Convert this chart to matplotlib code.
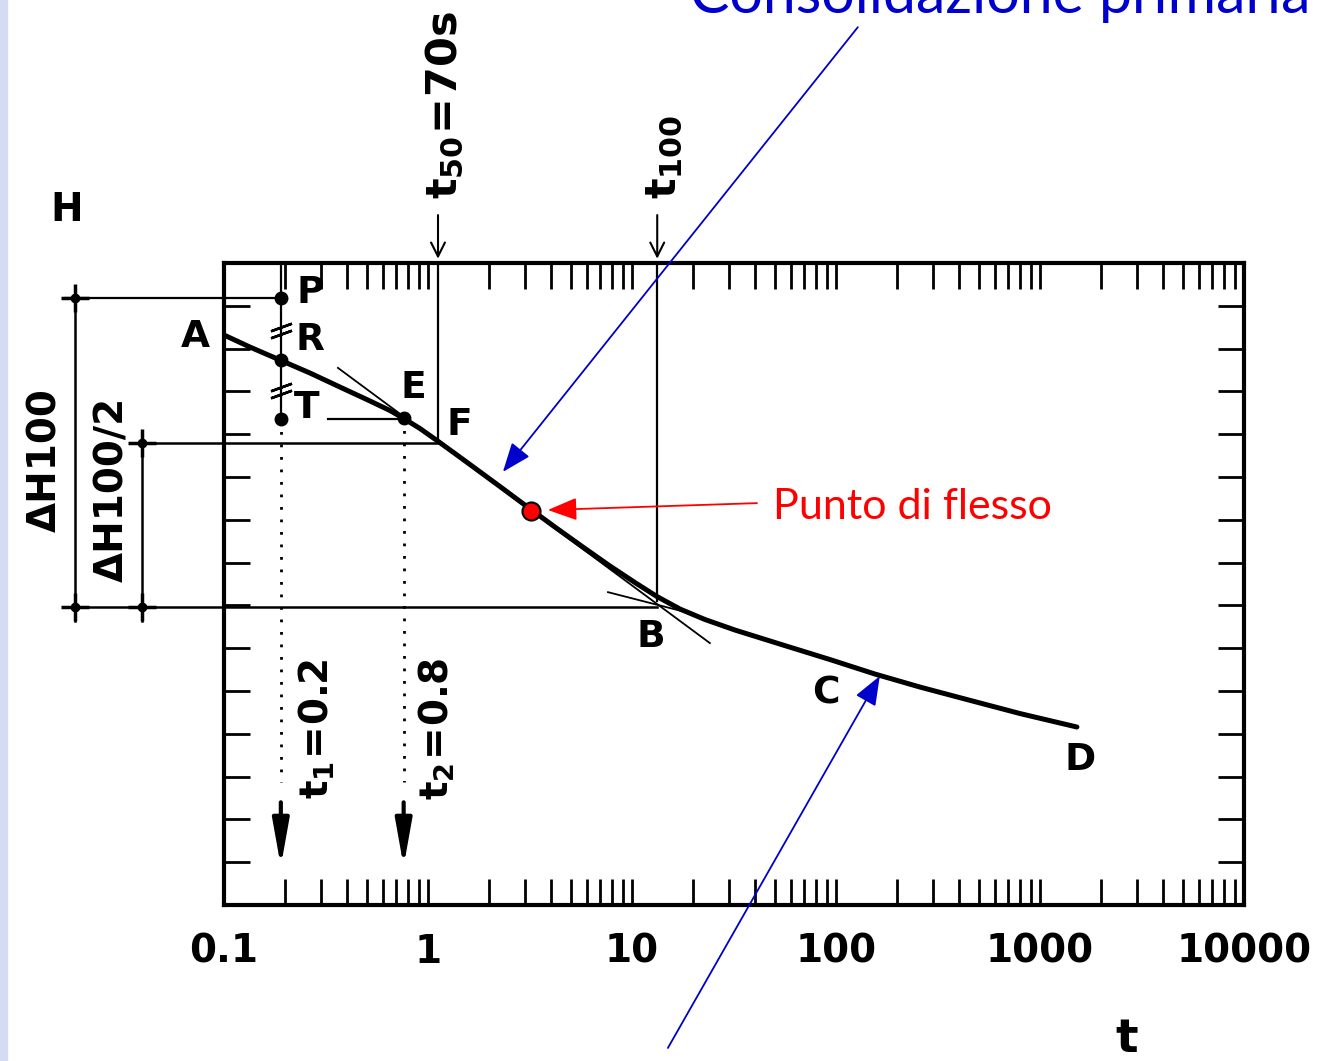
import matplotlib.pyplot as plt
import numpy as np
from matplotlib.ticker import LogLocator, NullFormatter
from matplotlib.patches import Rectangle

plt.rcParams['font.family'] = ['DejaVu Sans']
plt.rcParams['mathtext.fontset'] = 'dejavusans'

# consolidation curve: t (log), H in grid units (downwards)
curve_t = [0.1, 0.134, 0.188, 0.264, 0.37, 0.52, 0.651, 0.754, 0.914, 1.107,
           1.356, 1.607, 2.254, 3.198, 4.29, 5.75, 7.8, 10.34, 13.26, 17.19,
           22.8, 31.98, 55.0, 93.4, 155.3, 258, 438.7, 798, 1518]
curve_h = [1.682, 1.963, 2.266, 2.57, 2.897, 3.224, 3.446, 3.621, 3.867, 4.147,
           4.451, 4.708, 5.222, 5.759, 6.203, 6.636, 7.079, 7.465, 7.792, 8.084,
           8.329, 8.575, 8.925, 9.264, 9.603, 9.907, 10.199, 10.526, 10.841]

# construction points
t1, t2, t50, t100 = 0.19, 0.76, 1.12, 13.3
h_P, h_R, h_T, h_E = 0.82, 2.27, 3.65, 3.62
h_half, h_B = 4.2, 8.04
t_flex, h_flex = 3.2, 5.79
tan_flex_t, tan_flex_h = [0.362, 24.1], [2.45, 8.88]
tan_tail_t, tan_tail_h = [7.63, 19.2], [7.69, 8.18]
dim_full_t, dim_half_t = 0.0186, 0.0396

xticks = [0.1, 1, 10, 100, 1000, 10000]
xtick_labels = ['0.1', '1', '10', '100', '1000', '10000']
yticks = list(range(1, 15))

point_labels = [('A', 0.072, 1.73), ('P', 0.264, 0.70), ('R', 0.264, 1.80),
                ('T', 0.255, 3.39), ('E', 0.845, 2.92), ('F', 1.43, 3.79),
                ('B', 12.4, 8.74), ('C', 89, 10.05), ('D', 1570, 11.6)]

fig = plt.figure(figsize=(13.19, 10.61), dpi=100)
fig.patches.append(Rectangle((0, 0), 7 / 1319, 1, transform=fig.transFigure,
                             color='#d3dcf2', zorder=0))
ax = fig.add_axes([0.1698, 0.147, 0.7733, 0.6051])
ax.set_xscale('log')
ax.set_xlim(0.1, 10000)
ax.set_ylim(15, 0)
for s in ax.spines.values():
    s.set_linewidth(3)

ax.set_xticks(xticks)
ax.set_xticklabels(xtick_labels, fontsize=28, fontweight='bold')
ax.xaxis.set_minor_locator(LogLocator(base=10, subs=np.arange(2, 10)))
ax.xaxis.set_minor_formatter(NullFormatter())
ax.set_yticks(yticks)
ax.set_yticklabels([])
ax.tick_params(which='both', direction='in', top=True, right=True,
               length=19, width=2)
ax.tick_params(axis='x', which='major', pad=20)

ok = dict(clip_on=False)

# curve and tangents
ax.plot(curve_t, curve_h, color='k', lw=3.6, solid_capstyle='round',
        solid_joinstyle='round', zorder=4)
ax.plot(tan_flex_t, tan_flex_h, color='k', lw=1.3)
ax.plot(tan_tail_t, tan_tail_h, color='k', lw=1.3)

# construction lines
ax.plot([t1, t1], [0, h_T], color='k', lw=1.6)
ax.plot([0.324, t2], [h_T, h_T], color='k', lw=1.6)
ax.plot([t50, t50], [0, h_half], color='k', lw=1.6)
ax.plot([t100, t100], [0, 7.9], color='k', lw=1.6)
ax.plot([0.0166, t1], [h_P, h_P], color='k', lw=1.6, **ok)
ax.plot([0.0346, t50], [h_half, h_half], color='k', lw=1.8, **ok)
ax.plot([0.0166, t100], [h_B, h_B], color='k', lw=1.8, **ok)
ax.plot([dim_full_t, dim_full_t], [0.63, 8.36], color='k', lw=1.8, **ok)
ax.plot([dim_half_t, dim_half_t], [3.97, 8.36], color='k', lw=1.8, **ok)
for xx, yy in [(dim_full_t, h_P), (dim_full_t, h_B), (dim_half_t, h_half), (dim_half_t, h_B)]:
    ax.plot(xx, yy, '+', color='k', ms=20, mew=2.5, **ok)
    ax.plot(xx, yy, 'o', color='k', ms=6, **ok)

# break marks on the P-R-T segment
for yy in [1.49, 1.65, 2.89, 3.05]:
    ax.plot(t1, yy, marker=(2, 2, -70), color='k', ms=16, mew=1.8)

ax.plot([t1, t1, t1, t2], [h_P, h_R, h_T, h_E], 'o', color='k', ms=9, zorder=5)

# dotted verticals and arrows
ax.plot([t1, t1], [h_T, 12.13], color='k', lw=2, ls=(0, (1, 3.5)))
ax.plot([t2, t2], [h_E, 12.13], color='k', lw=2, ls=(0, (1, 3.5)))
for tt in [t1, t2]:
    ax.annotate('', xy=(tt, 14.1), xytext=(tt, 12.6),
                arrowprops=dict(arrowstyle='-|>,head_length=1.4,head_width=0.25',
                                lw=3, color='k', mutation_scale=20,
                                shrinkA=0, shrinkB=0))
for tt in [t50, t100]:
    ax.annotate('', xy=(tt, -0.1), xytext=(tt, -1.12), annotation_clip=False,
                arrowprops=dict(arrowstyle='->,head_length=0.5,head_width=0.25',
                                lw=1.5, color='k', mutation_scale=20,
                                shrinkA=0, shrinkB=0))

# labels
bold = dict(fontweight='bold', ha='center', va='center')
for name, xx, yy in point_labels:
    ax.text(xx, yy, name, fontsize=27, **bold)
ax.text(0.017, -1.24, 'H', fontsize=28, **bold)
ax.text(2670, 18.15, 't', fontsize=34, **bold)
ax.text(0.0133, 4.6, 'ΔH100', fontsize=28, rotation=90, **bold)
ax.text(0.0282, 5.3, 'ΔH100/2', fontsize=28, rotation=90, **bold)
ax.text(0.286, 10.9, r'$\mathbf{t_{1}\!=\!0.2}$', fontsize=28, rotation=90, **bold)
ax.text(1.1, 10.9, r'$\mathbf{t_{2}\!=\!0.8}$', fontsize=28, rotation=90, **bold)
ax.text(1.21, -3.69, r'$\mathbf{t_{50}\!=\!70s}$', fontsize=31, rotation=90, **bold)
ax.text(14.4, -2.48, r'$\mathbf{t_{100}}$', fontsize=31, rotation=90, **bold)

# inflection point and slide annotations
blue = '#0000cc'
ax.plot(t_flex, h_flex, 'o', ms=13, mfc='red', mec='k', mew=1.5, zorder=6)
ax.annotate('', xy=(3.87, 5.77), xytext=(41, 5.61),
            arrowprops=dict(arrowstyle='-|>,head_length=0.9,head_width=0.35',
                            lw=1.3, color='red', mutation_scale=20,
                            shrinkA=0, shrinkB=0))
ax.annotate('', xy=(2.33, 4.88), xytext=(128, -5.51), annotation_clip=False,
            arrowprops=dict(arrowstyle='-|>,head_length=0.9,head_width=0.35',
                            lw=1.3, color=blue, mutation_scale=20,
                            shrinkA=0, shrinkB=0))
ax.annotate('', xy=(164, 9.65), xytext=(15, 18.34), annotation_clip=False,
            arrowprops=dict(arrowstyle='-|>,head_length=0.9,head_width=0.35',
                            lw=1.3, color=blue, mutation_scale=20,
                            shrinkA=0, shrinkB=0))
fig.text(773 / 1319, 542 / 1061, 'Punto di flesso', color='red', fontsize=31,
         family='Lato', ha='left', va='baseline')
fig.text(690 / 1319, 1048 / 1061, 'Consolidazione primaria', color=blue,
         fontsize=42.5, family='Lato', ha='left', va='baseline')

fig.savefig('out.png', dpi=100)
